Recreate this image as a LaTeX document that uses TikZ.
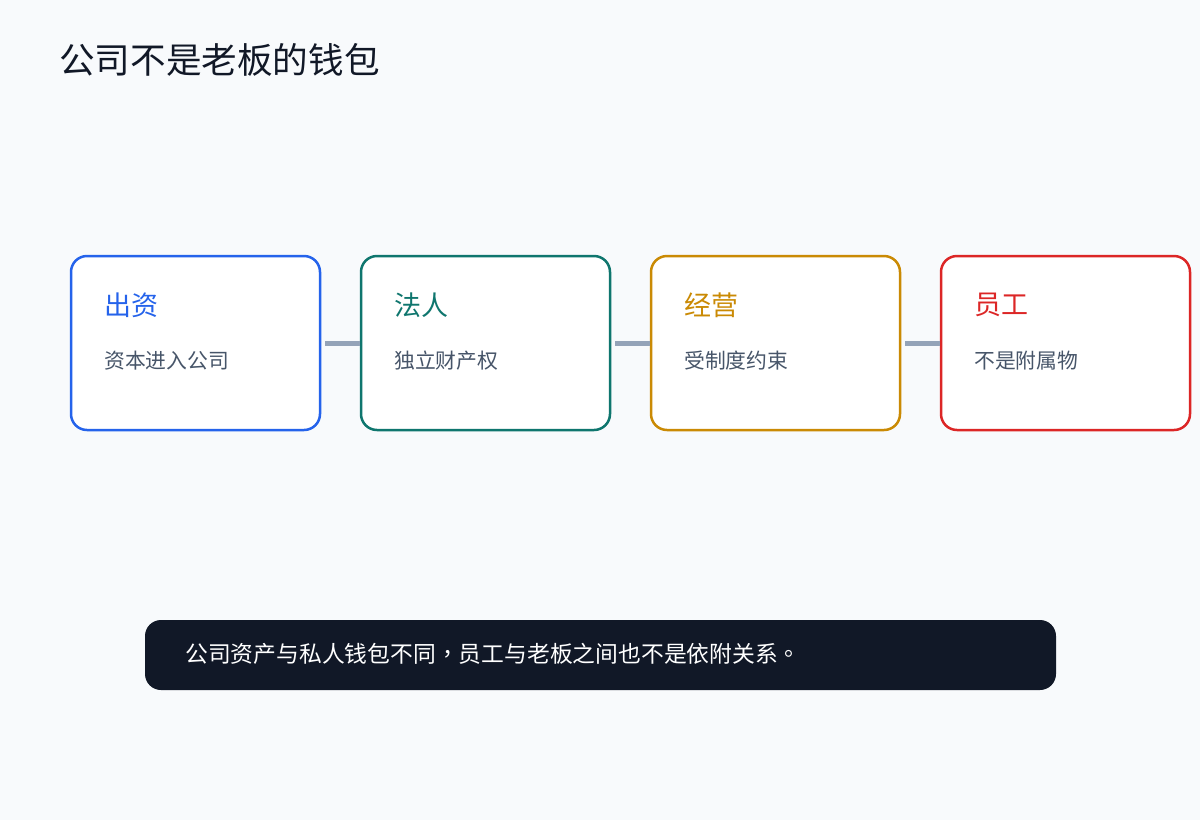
\documentclass[tikz,border=0pt]{standalone}
\usepackage{fontspec}
\setmainfont{Noto Sans CJK SC}
\newfontfamily\punctfont{Noto Sans CJK TC}
\usetikzlibrary{positioning, calc}
\usepackage{xcolor}
\definecolor{cPage}{HTML}{F8FAFC}
\definecolor{cInk}{HTML}{111827}
\definecolor{cSub}{HTML}{475569}
\definecolor{cLink}{HTML}{94A3B8}
\definecolor{cBlue}{HTML}{2563EB}
\definecolor{cTeal}{HTML}{0F766E}
\definecolor{cAmber}{HTML}{CA8A04}
\definecolor{cRed}{HTML}{DC2626}
\newcommand{\cpunct}[1]{{\punctfont #1}}
\tikzset{
  stagebox/.style={
    draw=#1, fill=white, rounded corners=16pt,
    minimum width=249pt, minimum height=174pt,
    line width=2.5pt, inner sep=0pt,
  },
  stagehead/.style={
    text=#1, font=\fontsize{27pt}{30pt}\selectfont,
    anchor=west, inner sep=0pt,
  },
  stagenote/.style={
    text=cSub, font=\fontsize{20.8pt}{24pt}\selectfont,
    anchor=west, inner sep=0pt,
  },
  lnk/.style={draw=cLink, line width=5pt, shorten <=4pt},
}

\begin{document}
\begin{tikzpicture}[x=1pt, y=-1pt]

  % Page
  \fill[cPage] (0,0) rectangle (1200,820);
  \useasboundingbox (0,0) rectangle (1200,820);

  % Title
  \node[anchor=west, inner sep=0pt, text=cInk, font=\fontsize{35.6pt}{40pt}\selectfont]
    (title) at (59,60) {公司不是老板的钱包};

  % Stage boxes
  \node[stagebox=cBlue]  (invest) at (195.5,343) {};
  \node[stagebox=cTeal]  (entity) at (485.5,343) {};
  \node[stagebox=cAmber] (run)    at (775.5,343) {};
  \node[stagebox=cRed]   (staff)  at (1065.5,343) {};

  % Connectors
  \draw[lnk] (invest.east) -- (entity.west);
  \draw[lnk] (entity.east) -- (run.west);
  \draw[lnk] (run.east) -- (staff.west);

  % Box texts
  \node[stagehead=cBlue]  (investHead) at (104,305) {出资};
  \node[stagenote] (investNote) at (104,361) {资本进入公司};
  \node[stagehead=cTeal]  (entityHead) at (394,305) {法人};
  \node[stagenote] (entityNote) at (394,361) {独立财产权};
  \node[stagehead=cAmber] (runHead)    at (684,305) {经营};
  \node[stagenote] (runNote)    at (684,361) {受制度约束};
  \node[stagehead=cRed]   (staffHead)  at (974,305) {员工};
  \node[stagenote] (staffNote)  at (974,361) {不是附属物};

  % Summary bar
  \node[fill=cInk, rounded corners=16pt, minimum width=911pt, minimum height=70pt,
        inner sep=0pt] (summary) at (600.5,655) {};
  \node[anchor=west, inner sep=0pt, text=white, font=\fontsize{22.8pt}{26pt}\selectfont]
    (summaryText) at (185,654)
    {公司资产与私人钱包不同\cpunct{，}员工与老板之间也不是依附关系\cpunct{。}};

\end{tikzpicture}
\end{document}
